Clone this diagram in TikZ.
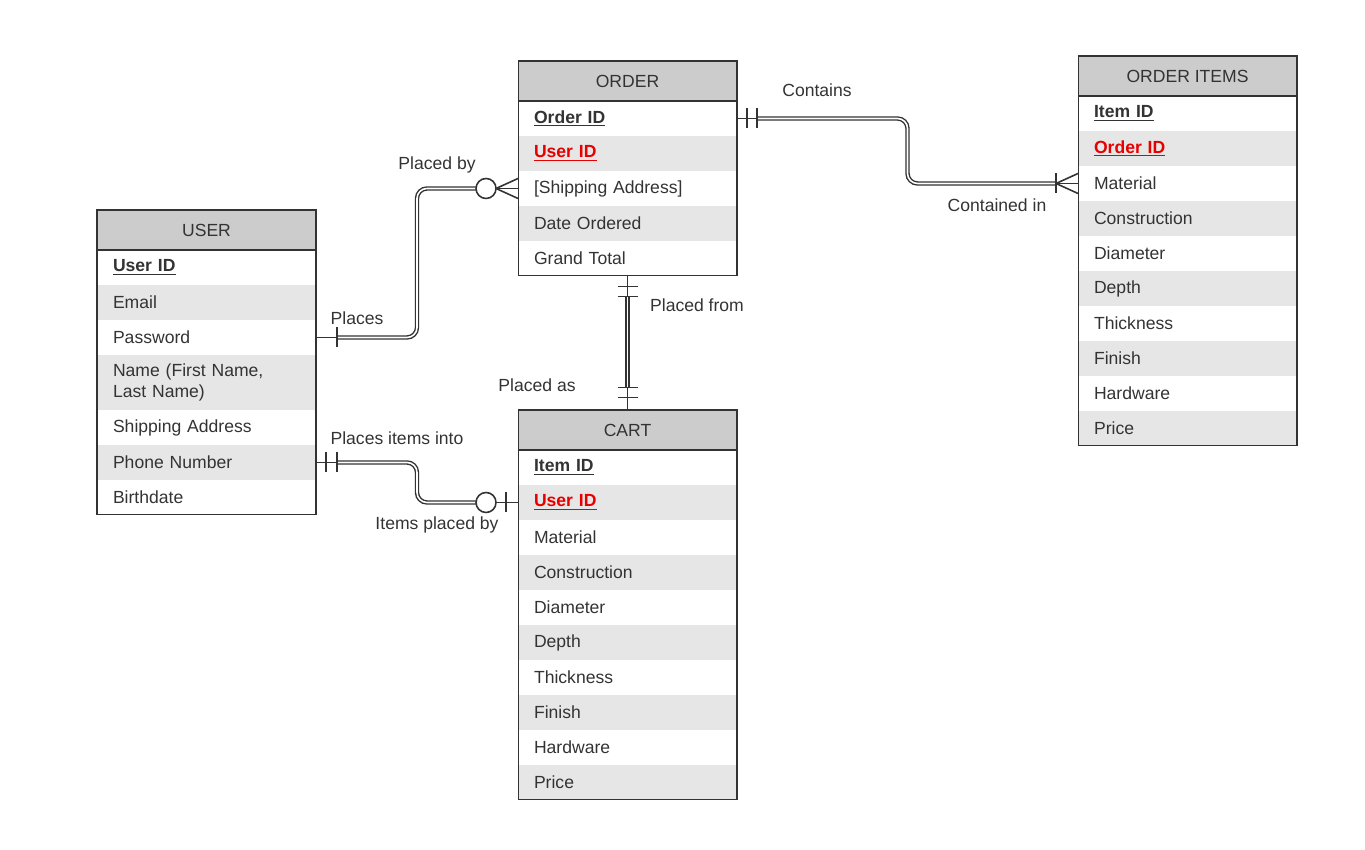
\documentclass[tikz,border=0pt]{standalone}
\usepackage{fontspec}
\setmainfont{Liberation Sans}
\usepackage{xcolor}
\usetikzlibrary{positioning,fit,calc}

\definecolor{ink}{HTML}{333333}
\definecolor{hdrgray}{HTML}{CCCCCC}
\definecolor{rowgray}{HTML}{E6E6E6}
\definecolor{fkred}{HTML}{E60000}
\newcommand{\pkey}[1]{\underline{\textbf{#1}}}
\newcommand{\fkey}[1]{{\color{fkred}\underline{\textbf{#1}}}}

\tikzset{
  hdr/.style={fill=hdrgray, minimum width=4.38cm, minimum height=0.8cm, inner sep=0, outer sep=0, text=ink},
  roww/.style={minimum height=0.7cm, text width=3.74cm, inner xsep=0.32cm, inner ysep=0, outer sep=0, align=left, text=ink},
  rowg/.style={roww, fill=rowgray},
  frame/.style={draw=ink, line width=0.6pt, inner sep=0},
  rel/.style={draw=ink, line width=0.8pt, double=white, double distance=0.9pt, rounded corners=0.2cm},
  tick/.style={draw=ink, line width=0.9pt},
  lbl/.style={text=ink, inner sep=1pt}
}

\begin{document}
\begin{tikzpicture}[x=0.02cm, y=-0.02cm]
  \useasboundingbox (0,0) rectangle (1365,849);

  % USER
  \node[hdr] (uh) at (206.5,230) {USER};
  \node[roww, below=0pt of uh] (u1) {\pkey{User ID}};
  \node[rowg, below=0pt of u1] (u2) {Email};
  \node[roww, below=0pt of u2] (u3) {Password};
  \node[rowg, below=0pt of u3, minimum height=1.1cm] (u4) {Name (First Name,\\Last Name)};
  \node[roww, below=0pt of u4] (u5) {Shipping Address};
  \node[rowg, below=0pt of u5] (u6) {Phone Number};
  \node[roww, below=0pt of u6] (u7) {Birthdate};
  \node[frame, fit=(uh)(u7)] (user) {};
  \draw[frame] (uh.south west) -- (uh.south east);

  % ORDER
  \node[hdr] (oh) at (627.5,81) {ORDER};
  \node[roww, below=0pt of oh] (o1) {\pkey{Order ID}};
  \node[rowg, below=0pt of o1] (o2) {\fkey{User ID}};
  \node[roww, below=0pt of o2] (o3) {[Shipping Address]};
  \node[rowg, below=0pt of o3] (o4) {Date Ordered};
  \node[roww, below=0pt of o4] (o5) {Grand Total};
  \node[frame, fit=(oh)(o5)] (order) {};
  \draw[frame] (oh.south west) -- (oh.south east);

  % CART
  \node[hdr] (ch) at (627.5,430) {CART};
  \node[roww, below=0pt of ch] (c1) {\pkey{Item ID}};
  \node[rowg, below=0pt of c1] (c2) {\fkey{User ID}};
  \node[roww, below=0pt of c2] (c3) {Material};
  \node[rowg, below=0pt of c3] (c4) {Construction};
  \node[roww, below=0pt of c4] (c5) {Diameter};
  \node[rowg, below=0pt of c5] (c6) {Depth};
  \node[roww, below=0pt of c6] (c7) {Thickness};
  \node[rowg, below=0pt of c7] (c8) {Finish};
  \node[roww, below=0pt of c8] (c9) {Hardware};
  \node[rowg, below=0pt of c9] (c10) {Price};
  \node[frame, fit=(ch)(c10)] (cart) {};
  \draw[frame] (ch.south west) -- (ch.south east);

  % ORDER ITEMS
  \node[hdr] (ih) at (1187.5,76) {ORDER ITEMS};
  \node[roww, below=0pt of ih] (i1) {\pkey{Item ID}};
  \node[rowg, below=0pt of i1] (i2) {\fkey{Order ID}};
  \node[roww, below=0pt of i2] (i3) {Material};
  \node[rowg, below=0pt of i3] (i4) {Construction};
  \node[roww, below=0pt of i4] (i5) {Diameter};
  \node[rowg, below=0pt of i5] (i6) {Depth};
  \node[roww, below=0pt of i6] (i7) {Thickness};
  \node[rowg, below=0pt of i7] (i8) {Finish};
  \node[roww, below=0pt of i8] (i9) {Hardware};
  \node[rowg, below=0pt of i9] (i10) {Price};
  \node[frame, fit=(ih)(i10)] (items) {};
  \draw[frame] (ih.south west) -- (ih.south east);

  % USER places ORDER
  \draw[rel, shorten <=0.42cm, shorten >=0.8cm] (u3.east) -| ($(u3.east)!.5!(o3.west)$) |- (o3.west);
  \draw[tick] (u3.east) -- +(21,0);
  \draw[tick] ($(u3.east)+(21,-10)$) -- +(0,20);
  \draw[tick, fill=white] ($(o3.west)+(-32,0)$) circle (0.2cm);
  \draw[tick] ($(o3.west)+(-22,0)$) -- ($(o3.west)+(0,-10)$);
  \draw[tick] ($(o3.west)+(-22,0)$) -- (o3.west);
  \draw[tick] ($(o3.west)+(-22,0)$) -- ($(o3.west)+(0,10)$);

  % USER places items into CART
  \draw[rel, shorten <=0.42cm, shorten >=0.8cm] (u6.east) -| ($(u6.east)!.5!(c2.west)$) |- (c2.west);
  \draw[tick] (u6.east) -- +(21,0);
  \draw[tick] ($(u6.east)+(10,-10)$) -- +(0,20);
  \draw[tick] ($(u6.east)+(21,-10)$) -- +(0,20);
  \draw[tick] ($(c2.west)+(-22,0)$) -- (c2.west);
  \draw[tick, fill=white] ($(c2.west)+(-32,0)$) circle (0.2cm);
  \draw[tick] ($(c2.west)+(-12,-10)$) -- +(0,20);

  % ORDER placed from CART
  \draw[rel, shorten <=0.4cm, shorten >=0.44cm] (order.south) -- (cart.north);
  \draw[tick] (order.south) -- +(0,20);
  \draw[tick] (cart.north) -- +(0,-22);
  \draw[tick] ($(order.south)+(-10,10)$) -- +(20,0);
  \draw[tick] ($(order.south)+(-10,20)$) -- +(20,0);
  \draw[tick] ($(cart.north)+(-10,-22)$) -- +(20,0);
  \draw[tick] ($(cart.north)+(-10,-12)$) -- +(20,0);

  % ORDER contains ORDER ITEMS
  \draw[rel, shorten <=0.4cm, shorten >=0.44cm] (o1.east) -| ($(o1.east)!.5!(i3.west)$) |- (i3.west);
  \draw[tick] (o1.east) -- +(20,0);
  \draw[tick] ($(o1.east)+(10,-10)$) -- +(0,20);
  \draw[tick] ($(o1.east)+(20,-10)$) -- +(0,20);
  \draw[tick] ($(i3.west)+(-22,-10)$) -- +(0,20);
  \draw[tick] ($(i3.west)+(-22,0)$) -- ($(i3.west)+(0,-10)$);
  \draw[tick] ($(i3.west)+(-22,0)$) -- (i3.west);
  \draw[tick] ($(i3.west)+(-22,0)$) -- ($(i3.west)+(0,10)$);

  % labels
  \node[lbl] (lplaces) at (357,318) {Places};
  \node[lbl] (lplacedby) at (437,165) {Placed by};
  \node[lbl] (linto) at (397,438) {Places items into};
  \node[lbl] (litemsby) at (437,525) {Items placed by};
  \node[lbl] (lfrom) at (697,305) {Placed from};
  \node[lbl] (las) at (537,385) {Placed as};
  \node[lbl] (lcontains) at (817,90) {Contains};
  \node[lbl] (lcontained) at (997,205) {Contained in};
\end{tikzpicture}
\end{document}
